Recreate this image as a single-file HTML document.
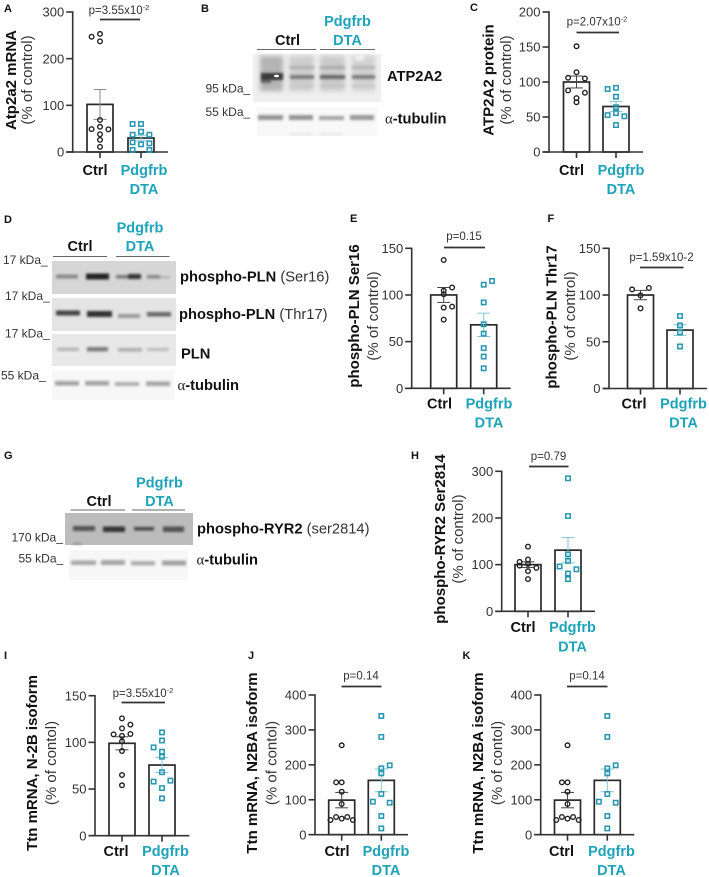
<!DOCTYPE html>
<html lang="en">
<head>
<meta charset="utf-8">
<title>Pdgfrb DTA cardiac protein and mRNA panels</title>
<style>
html,body{margin:0;padding:0;background:#fff;width:709px;height:877px;overflow:hidden}
svg{display:block}
text{font-family:"Liberation Sans",sans-serif}
.letter{font-size:11px;font-weight:700;fill:#111}
.title{font-size:15px;font-weight:700;fill:#111;text-anchor:middle}
.sub{font-size:15px;fill:#333;text-anchor:middle}
.ctrl{font-size:14.5px;font-weight:700;fill:#111;text-anchor:middle}
.dta{font-size:14.5px;font-weight:700;fill:#1fa3b8;text-anchor:middle}
.p{font-size:11.5px;fill:#333;text-anchor:middle}
.kda{font-size:12px;fill:#333}
.blot{font-size:14.7px;font-weight:700;fill:#111}
.blotr{font-weight:400;fill:#333}
.alpha{font-family:"Liberation Serif",serif;font-weight:400;fill:#222}
.pline{stroke:#333;stroke-width:1.7}
.hline{stroke:#666;stroke-width:1}
</style>
</head>
<body>
<svg xmlns="http://www.w3.org/2000/svg" width="709" height="877" viewBox="0 0 709 877">
<defs>
<filter id="b1" x="-30%" y="-150%" width="160%" height="400%"><feGaussianBlur stdDeviation="1.3"/></filter>
<filter id="b2" x="-30%" y="-50%" width="160%" height="200%"><feGaussianBlur stdDeviation="2.5"/></filter>
</defs>

<!-- Panel A -->
<g>
<text class="letter" x="4" y="12">A</text>
<text class="title" transform="translate(16,80) rotate(-90)">Atp2a2 mRNA</text>
<text class="sub" transform="translate(32,80) rotate(-90)">(% of control)</text>
<text class="p" x="119" y="14">p=3.55x10<tspan dy="-4" font-size="7.5">-2</tspan></text>
<line class="pline" x1="100" x2="140" y1="19.5" y2="19.5"/>
<text class="ctrl" x="95" y="175">Ctrl</text>
<text class="dta" x="144" y="175">Pdgfrb</text>
<text class="dta" x="144" y="194">DTA</text>
<g id="plot-a"></g>
</g>

<!-- Panel B -->
<g>
<text class="letter" x="201" y="12">B</text>
<text class="ctrl" x="287.5" y="45">Ctrl</text>
<text class="dta" x="347.5" y="26">Pdgfrb</text>
<text class="dta" x="347.5" y="45">DTA</text>
<line class="hline" x1="257" x2="316" y1="49.5" y2="49.5"/>
<line class="hline" x1="320" x2="375" y1="49.5" y2="49.5"/>
<g>
<rect x="253" y="54" width="128" height="48" fill="#efefef"/>
<g filter="url(#b2)">
<rect x="260" y="56" width="23" height="35" fill="#b4b4b4"/>
<rect x="289" y="56" width="25" height="35" fill="#cdcdcd"/>
<rect x="320" y="56" width="25" height="35" fill="#cacaca"/>
<rect x="352" y="56" width="23" height="35" fill="#d2d2d2"/>
</g>
<g filter="url(#b1)">
<rect x="261" y="73" width="22" height="7" fill="#3a3a3a"/>
<rect x="261" y="80" width="10" height="3" fill="#666"/>
<rect x="290" y="75" width="24" height="4" fill="#7c7c7c"/>
<rect x="320" y="75" width="25" height="4" fill="#666"/>
<rect x="352" y="75" width="23" height="4" fill="#7e7e7e"/>
<rect x="290" y="66" width="24" height="3" fill="#b0b0b0"/>
<rect x="320" y="66" width="25" height="3" fill="#aaa"/>
<rect x="352" y="66" width="23" height="3" fill="#b4b4b4"/>
<rect x="290" y="85" width="24" height="2" fill="#c6c6c6"/>
<rect x="320" y="85" width="25" height="2" fill="#c6c6c6"/>
<rect x="352" y="85" width="23" height="2" fill="#c6c6c6"/>
<ellipse cx="360" cy="58" rx="5" ry="3" fill="#f2f2f2"/>
</g>
<ellipse cx="276.5" cy="76" rx="2.6" ry="1.3" fill="#fff"/>
</g>
<g>
<rect x="257" y="107" width="120" height="29" fill="#f8f8f8"/>
<g filter="url(#b1)">
<rect x="258" y="115" width="25" height="5" fill="#949494"/>
<rect x="289" y="115" width="24" height="5" fill="#949494"/>
<rect x="319" y="116" width="25" height="4" fill="#a2a2a2"/>
<rect x="350" y="115" width="24" height="5" fill="#989898"/>
<rect x="290" y="133" width="22" height="2" fill="#e4e4e4"/>
<rect x="320" y="133" width="22" height="2" fill="#e4e4e4"/>
</g>
</g>
<text class="blot" x="387" y="81">ATP2A2</text>
<text class="blot" x="385" y="123.5"><tspan class="alpha">α</tspan>-tubulin</text>
<text class="kda" x="205.5" y="92.5">95 kDa_</text>
<text class="kda" x="205.5" y="116">55 kDa_</text>
</g>

<!-- Panel C -->
<g>
<text class="letter" x="470" y="11">C</text>
<text class="title" transform="translate(493.5,80) rotate(-90)">ATP2A2 protein</text>
<text class="sub" transform="translate(511,80) rotate(-90)">(% of control)</text>
<text class="p" x="597" y="25.5">p=2.07x10<tspan dy="-4" font-size="7.5">-2</tspan></text>
<line class="pline" x1="576.5" x2="619" y1="32.5" y2="32.5"/>
<text class="ctrl" x="571.5" y="175">Ctrl</text>
<text class="dta" x="621" y="175">Pdgfrb</text>
<text class="dta" x="621" y="194">DTA</text>
<g id="plot-c"></g>
</g>

<!-- Panel D -->
<g>
<text class="letter" x="4" y="223">D</text>
<text class="ctrl" x="80" y="251">Ctrl</text>
<text class="dta" x="140" y="232.5">Pdgfrb</text>
<text class="dta" x="140" y="251">DTA</text>
<line class="hline" x1="53" x2="107" y1="256.5" y2="256.5"/>
<line class="hline" x1="116" x2="169.5" y1="256.5" y2="256.5"/>
<g>
<rect x="52" y="261" width="124" height="33" fill="#d6d6d6"/>
<g filter="url(#b1)">
<rect x="56" y="274.5" width="22" height="4" fill="#888"/>
<rect x="86" y="273.5" width="23" height="6" fill="#222"/>
<rect x="116" y="275" width="12" height="3.5" fill="#777"/>
<rect x="128" y="274" width="13" height="5" fill="#333"/>
<rect x="147" y="275" width="13" height="3.5" fill="#888"/>
<rect x="160" y="276" width="10" height="2.5" fill="#b4b4b4"/>
</g>
</g>
<g>
<rect x="52" y="298" width="124" height="33" fill="#e4e4e4"/>
<g filter="url(#b1)">
<rect x="56" y="310.5" width="24" height="5" fill="#444"/>
<rect x="87" y="311" width="25" height="6" fill="#333"/>
<rect x="118" y="314" width="22" height="4" fill="#999"/>
<rect x="147" y="312" width="24" height="4.5" fill="#666"/>
</g>
</g>
<g>
<rect x="52" y="334" width="124" height="32" fill="#e8e8e8"/>
<g filter="url(#b1)">
<rect x="57" y="347.5" width="22" height="3.5" fill="#b6b6b6"/>
<rect x="87" y="347" width="21" height="4.5" fill="#7c7c7c"/>
<rect x="118" y="348" width="24" height="3.5" fill="#acacac"/>
<rect x="147" y="348" width="22" height="3" fill="#bcbcbc"/>
</g>
</g>
<g>
<rect x="52" y="370" width="122" height="30" fill="#f7f7f7"/>
<g filter="url(#b1)">
<rect x="55" y="381" width="24" height="4.5" fill="#a2a2a2"/>
<rect x="85" y="381" width="24" height="4.5" fill="#a0a0a0"/>
<rect x="115" y="382" width="24" height="4" fill="#aeaeae"/>
<rect x="146" y="381.5" width="24" height="4.5" fill="#a4a4a4"/>
</g>
</g>
<text class="blot" x="180" y="281.5">phospho-PLN <tspan class="blotr">(Ser16)</tspan></text>
<text class="blot" x="179" y="319">phospho-PLN <tspan class="blotr">(Thr17)</tspan></text>
<text class="blot" x="181" y="358.5">PLN</text>
<text class="blot" x="177.5" y="390"><tspan class="alpha">α</tspan>-tubulin</text>
<text class="kda" x="3" y="264">17 kDa_</text>
<text class="kda" x="5" y="300">17 kDa_</text>
<text class="kda" x="5" y="337.5">17 kDa_</text>
<text class="kda" x="1" y="379.5">55 kDa_</text>
</g>

<!-- Panel E -->
<g>
<text class="letter" x="350" y="222">E</text>
<text class="title" transform="translate(359,316) rotate(-90)">phospho-PLN Ser16</text>
<text class="sub" transform="translate(378,316) rotate(-90)">(% of control)</text>
<text class="p" x="464" y="240">p=0.15</text>
<line class="pline" x1="444" x2="485" y1="247.5" y2="247.5"/>
<text class="ctrl" x="439.5" y="408.5">Ctrl</text>
<text class="dta" x="489" y="408.5">Pdgfrb</text>
<text class="dta" x="489" y="427.5">DTA</text>
<g id="plot-e"></g>
</g>

<!-- Panel F -->
<g>
<text class="letter" x="547.5" y="222">F</text>
<text class="title" transform="translate(556.5,317) rotate(-90)">phospho-PLN Thr17</text>
<text class="sub" transform="translate(575,316) rotate(-90)">(% of control)</text>
<text class="p" x="661.5" y="261">p=1.59x10-2</text>
<line class="pline" x1="640" x2="683.5" y1="267.5" y2="267.5"/>
<text class="ctrl" x="634" y="408.5">Ctrl</text>
<text class="dta" x="683.5" y="408.5">Pdgfrb</text>
<text class="dta" x="683.5" y="427.5">DTA</text>
<g id="plot-f"></g>
</g>

<!-- Panel G -->
<g>
<text class="letter" x="4" y="459">G</text>
<text class="ctrl" x="99" y="506">Ctrl</text>
<text class="dta" x="159.5" y="487.5">Pdgfrb</text>
<text class="dta" x="159.5" y="506">DTA</text>
<line class="hline" x1="70.5" x2="125" y1="510" y2="510"/>
<line class="hline" x1="132" x2="185" y1="510" y2="510"/>
<g>
<rect x="65" y="513" width="128" height="32" fill="#bcbcbc"/>
<g filter="url(#b1)">
<rect x="73" y="526" width="22" height="5" fill="#555"/>
<rect x="103" y="526.5" width="22" height="5.5" fill="#333"/>
<rect x="134" y="527" width="20" height="3.5" fill="#444"/>
<rect x="163" y="526.5" width="21" height="5.5" fill="#525252"/>
<rect x="73" y="543" width="9" height="1.5" fill="#888"/>
</g>
</g>
<g>
<rect x="69" y="550" width="119" height="30" fill="#f7f7f7"/>
<g filter="url(#b1)">
<rect x="71" y="560.5" width="25" height="4.5" fill="#a6a6a6"/>
<rect x="101" y="560" width="24" height="5" fill="#a6a6a6"/>
<rect x="131" y="561" width="24" height="4.5" fill="#aeaeae"/>
<rect x="162" y="560.5" width="24" height="5" fill="#a2a2a2"/>
</g>
</g>
<text class="blot" x="197" y="533.5">phospho-RYR2 <tspan class="blotr">(ser2814)</tspan></text>
<text class="blot" x="196.5" y="564.5"><tspan class="alpha">α</tspan>-tubulin</text>
<text class="kda" x="11.5" y="541.5">170 kDa_</text>
<text class="kda" x="18.5" y="562.5">55 kDa_</text>
</g>

<!-- Panel H -->
<g>
<text class="letter" x="411" y="459">H</text>
<text class="title" transform="translate(445,539) rotate(-90)">phospho-RYR2 Ser2814</text>
<text class="sub" transform="translate(463,539) rotate(-90)">(% of control)</text>
<text class="p" x="548.5" y="460">p=0.79</text>
<line class="pline" x1="529" x2="568.5" y1="466.5" y2="466.5"/>
<text class="ctrl" x="523" y="632">Ctrl</text>
<text class="dta" x="572.5" y="632">Pdgfrb</text>
<text class="dta" x="572.5" y="651.5">DTA</text>
<g id="plot-h"></g>
</g>

<!-- Panel I -->
<g>
<text class="letter" x="4" y="659">I</text>
<text class="title" transform="translate(37,763) rotate(-90)">Ttn mRNA, N-2B isoform</text>
<text class="sub" transform="translate(56,763) rotate(-90)">(% of contol)</text>
<text class="p" x="143" y="697">p=3.55x10<tspan dy="-4" font-size="7.5">-2</tspan></text>
<line class="pline" x1="121.5" x2="165" y1="702.5" y2="702.5"/>
<text class="ctrl" x="116" y="856">Ctrl</text>
<text class="dta" x="165.5" y="856">Pdgfrb</text>
<text class="dta" x="165.5" y="875">DTA</text>
<g id="plot-i"></g>
</g>

<!-- Panel J -->
<g>
<text class="letter" x="248" y="659">J</text>
<text class="title" transform="translate(257,763) rotate(-90)">Ttn mRNA, N2BA isoform</text>
<text class="sub" transform="translate(276.5,763) rotate(-90)">(% of contol)</text>
<text class="p" x="361" y="679.5">p=0.14</text>
<line class="pline" x1="341.5" x2="381.5" y1="686.5" y2="686.5"/>
<text class="ctrl" x="337" y="856">Ctrl</text>
<text class="dta" x="386" y="856">Pdgfrb</text>
<text class="dta" x="386" y="875">DTA</text>
<g id="plot-j"></g>
</g>

<!-- Panel K -->
<g>
<text class="letter" x="462.5" y="659">K</text>
<text class="title" transform="translate(483,763) rotate(-90)">Ttn mRNA, N2BA isoform</text>
<text class="sub" transform="translate(502,763) rotate(-90)">(% of contol)</text>
<text class="p" x="587" y="679.5">p=0.14</text>
<line class="pline" x1="567" x2="607.5" y1="686.5" y2="686.5"/>
<text class="ctrl" x="561.5" y="856">Ctrl</text>
<text class="dta" x="611.5" y="856">Pdgfrb</text>
<text class="dta" x="611.5" y="875">DTA</text>
<g id="plot-k"></g>
</g>
</svg>

<script>
// Panel A data
var aTicks = [0, 100, 200, 300];
var aMeans = [102, 30];
var aSems = [32, 6];
var aCtrl = [253, 247, 237, 68.6, 54, 49, 48.6, 38, 26, 11];
var aCtrlSwarm = [0, -1, 0, 0, 0, -1, 1, 0, 0, 0];
var aDta = [60, 60, 43.5, 37, 37, 20.7, 16.4, 18.6, 4.3, 4.3];
var aDtaSwarm = [-1, 0, 0, -1, 1, -1, 0, 1, -1, 1];
// Panel C data
var cTicks = [0, 50, 100, 150, 200];
var cMeans = [100, 65];
var cSems = [8.5, 7];
var cCtrl = [151, 114, 106, 105, 88, 84.6, 77, 71];
var cCtrlSwarm = [0, 0, -1, 1, -1, 1, 0, 0];
var cDta = [90, 91.7, 79, 64, 55.6, 52.7, 51, 38.5];
var cDtaSwarm = [-1, 0, 0, 0, 0, -1, 1, 0];
// Panel E data
var eTicks = [0, 50, 100, 150];
var eMeans = [100, 68];
var eSems = [8, 12.5];
var eCtrl = [137.5, 108, 104.6, 100.7, 87.5, 86.4, 73.6];
var eCtrlSwarm = [0, 1, 0, 0, 1, 0, 0];
var eDta = [115, 111, 92, 68.6, 58.6, 43, 34, 21.4];
var eDtaSwarm = [1, 0, 0, 0, 0, 0, 0, 0];
// Panel F data
var fTicks = [0, 50, 100, 150];
var fMeans = [100, 62.5];
var fSems = [5, 5.7];
var fCtrl = [106, 107.5, 99.6, 85.7];
var fCtrlSwarm = [-1, 1, 0, 0];
var fDta = [77.5, 67.5, 60, 45];
var fDtaSwarm = [0, 0, 0, 0];
// Panel H data
var hTicks = [0, 100, 200, 300];
var hMeans = [100, 131];
var hSems = [6, 27];
var hCtrl = [138.6, 111, 106, 101.5, 98, 93, 86, 69];
var hCtrlSwarm = [0, 0, -1, 0, -1, 1, 0, 0];
var hDta = [285, 204, 122, 108, 96, 90, 81, 69];
var hDtaSwarm = [0, 0, 0, 0, -1, 1, 0, 0];
// Panel I data
var iTicks = [0, 50, 100, 150];
var iMeans = [99, 75.7];
var iSems = [7, 8];
var iCtrl = [125.7, 119, 115, 109, 108.6, 107, 101, 90.7, 65, 54];
var iCtrlSwarm = [0, 1, 0, 1, -1, 0, 0, 0, 0, 0];
var iDta = [110.7, 102, 94.6, 90, 84.6, 68, 58, 59, 51, 40];
var iDtaSwarm = [0, 0, -1, 0, 0, 0, -1, 1, 0, 0];
// Panel J data
var jTicks = [0, 100, 200, 300, 400];
var jMeans = [99, 155.6];
var jSems = [22, 32.5];
var jCtrl = [256, 150, 150, 123, 88, 50.6, 50.6, 46, 42, 42];
var jCtrlSwarm = [0, -1, 0, 0, 0, -1, 1, 0, -2, 2];
var jDta = [340, 280, 198.6, 190, 175.6, 116.5, 94.5, 91.6, 53.5, 18];
var jDtaSwarm = [0, 0, 1, 0, 0, 0, -1, 1, 0, 0];
// Panel K data
var kTicks = [0, 100, 200, 300, 400];
var kMeans = [99, 155.6];
var kSems = [22, 32.5];
var kCtrl = [256, 150, 150, 123, 88, 50.6, 50.6, 46, 42, 42];
var kCtrlSwarm = [0, -1, 0, 0, 0, -1, 1, 0, -2, 2];
var kDta = [340, 280, 198.6, 190, 175.6, 116.5, 94.5, 91.6, 53.5, 18];
var kDtaSwarm = [0, 0, 1, 0, 0, 0, -1, 1, 0, 0];

var SVG_NS = 'http://www.w3.org/2000/svg';

function make(tag, parent, props) {
  var el = document.createElementNS(SVG_NS, tag);
  for (var k in props) { el.setAttribute(k, props[k]); }
  parent.appendChild(el);
  return el;
}

function drawChart(c) {
  var g = document.getElementById(c.id);
  var scaleY = function (v) {
    return c.y0 - v / c.ticks[c.ticks.length - 1] * (c.y0 - c.yTop);
  };
  var centers = [c.ctrlX, c.dtaX];
  var bars = ['ctrl', 'dta'];
  var errorColors = [c.ctrlError || '#444', '#86c6d4'];
  var axisColor = '#333';

  // Bars
  bars.forEach(function (label, i) {
    var top = scaleY(c.means[i]);
    var bar = make('rect', g, {
      x: centers[i] - 13, y: top, width: 26, height: c.y0 - top,
      fill: '#fff', stroke: '#2a2a2a', 'stroke-width': 1.7
    });
    
    
  });

  // Y axis, ticks and labels
  var yAxis = make('line', g, {
    x1: c.axisX, x2: c.axisX, y1: scaleY(c.ticks[c.ticks.length - 1]) - 0.7, y2: c.y0 + 0.7,
    stroke: axisColor, 'stroke-width': 1.6
  });
  
  
  var xAxis = make('line', g, {
    x1: c.axisX - 6.5, x2: c.xEnd, y1: c.y0, y2: c.y0,
    stroke: axisColor, 'stroke-width': 1.6
  });
  
  

  c.ticks.forEach(function (t) {
    var y = scaleY(t);
    var tick = make('line', g, {
      x1: c.axisX - 6.5, x2: c.axisX, y1: y, y2: y,
      stroke: axisColor, 'stroke-width': 1.6
    });
    
    
    var label = make('text', g, {
      x: c.axisX - 8.5, y: y + 4.6, 'text-anchor': 'end',
      'font-size': 13, fill: '#333'
    });
    label.textContent = String(t);
    
    
  });

  centers.forEach(function (x) {
    var tick = make('line', g, {
      x1: x, x2: x, y1: c.y0, y2: c.y0 + 6,
      stroke: axisColor, 'stroke-width': 1.6
    });
    
    
  });

  // Error bars
  bars.forEach(function (label, i) {
    var hi = scaleY(c.means[i] + c.sems[i]);
    var lo = scaleY(c.means[i] - c.sems[i]);
    var x = centers[i];
    [[x, x, hi, lo], [x - 6.5, x + 6.5, hi, hi], [x - 6.5, x + 6.5, lo, lo]].forEach(function (s) {
      var line = make('line', g, {
        x1: s[0], x2: s[1], y1: s[2], y2: s[3],
        stroke: errorColors[i], 'stroke-width': 1
      });
      
      
    });
  });

  // Control points
  c.ctrl.forEach(function (v, i) {
    var dot = make('circle', g, {
      cx: c.ctrlX + c.ctrlSwarm[i] * (c.ctrlStep || 8.4), cy: scaleY(v), r: 2.3,
      fill: 'none', stroke: '#222', 'stroke-width': 1.4
    });
    
    
  });

  // Pdgfrb DTA points
  c.dta.forEach(function (v, i) {
    var sq = make('rect', g, {
      x: c.dtaX + c.dtaSwarm[i] * 8.4 - 2.2, y: scaleY(v) - 2.2, width: 4.4, height: 4.4,
      fill: 'none', stroke: '#2596b0', 'stroke-width': 1.5
    });
    
    
  });
}

drawChart({ id: 'plot-a', axisX: 72.7, xEnd: 168, y0: 152, yTop: 12, ctrlX: 100, dtaX: 141, ticks: aTicks, means: aMeans, sems: aSems, ctrl: aCtrl, ctrlSwarm: aCtrlSwarm, dta: aDta, dtaSwarm: aDtaSwarm, ctrlError: '#8a8a8a' });
drawChart({ id: 'plot-c', axisX: 549, xEnd: 643, y0: 152, yTop: 12, ctrlX: 576.5, dtaX: 616, ticks: cTicks, means: cMeans, sems: cSems, ctrl: cCtrl, ctrlSwarm: cCtrlSwarm, dta: cDta, dtaSwarm: cDtaSwarm });
drawChart({ id: 'plot-e', axisX: 411.7, xEnd: 510.7, y0: 388.3, yTop: 248.3, ctrlX: 443.7, dtaX: 483.7, ticks: eTicks, means: eMeans, sems: eSems, ctrl: eCtrl, ctrlSwarm: eCtrlSwarm, dta: eDta, dtaSwarm: eDtaSwarm });
drawChart({ id: 'plot-f', axisX: 609, xEnd: 707, y0: 388.5, yTop: 248.3, ctrlX: 640.5, dtaX: 680, ticks: fTicks, means: fMeans, sems: fSems, ctrl: fCtrl, ctrlSwarm: fCtrlSwarm, dta: fDta, dtaSwarm: fDtaSwarm });
drawChart({ id: 'plot-h', axisX: 501.7, xEnd: 595, y0: 611.3, yTop: 471.3, ctrlX: 528, dtaX: 568, ticks: hTicks, means: hMeans, sems: hSems, ctrl: hCtrl, ctrlSwarm: hCtrlSwarm, dta: hDta, dtaSwarm: hDtaSwarm });
drawChart({ id: 'plot-i', axisX: 95, xEnd: 189.3, y0: 835.7, yTop: 695.7, ctrlX: 122, dtaX: 162, ticks: iTicks, means: iMeans, sems: iSems, ctrl: iCtrl, ctrlSwarm: iCtrlSwarm, dta: iDta, dtaSwarm: iDtaSwarm });
drawChart({ id: 'plot-j', axisX: 315, xEnd: 408, y0: 834.7, yTop: 695, ctrlX: 341.7, dtaX: 381.3, ticks: jTicks, means: jMeans, sems: jSems, ctrl: jCtrl, ctrlSwarm: jCtrlSwarm, dta: jDta, dtaSwarm: jDtaSwarm, ctrlStep: 5.6 });
drawChart({ id: 'plot-k', axisX: 540.7, xEnd: 634.3, y0: 834.7, yTop: 695, ctrlX: 567.5, dtaX: 607.3, ticks: kTicks, means: kMeans, sems: kSems, ctrl: kCtrl, ctrlSwarm: kCtrlSwarm, dta: kDta, dtaSwarm: kDtaSwarm, ctrlStep: 5.6 });
</script>
</body>
</html>
